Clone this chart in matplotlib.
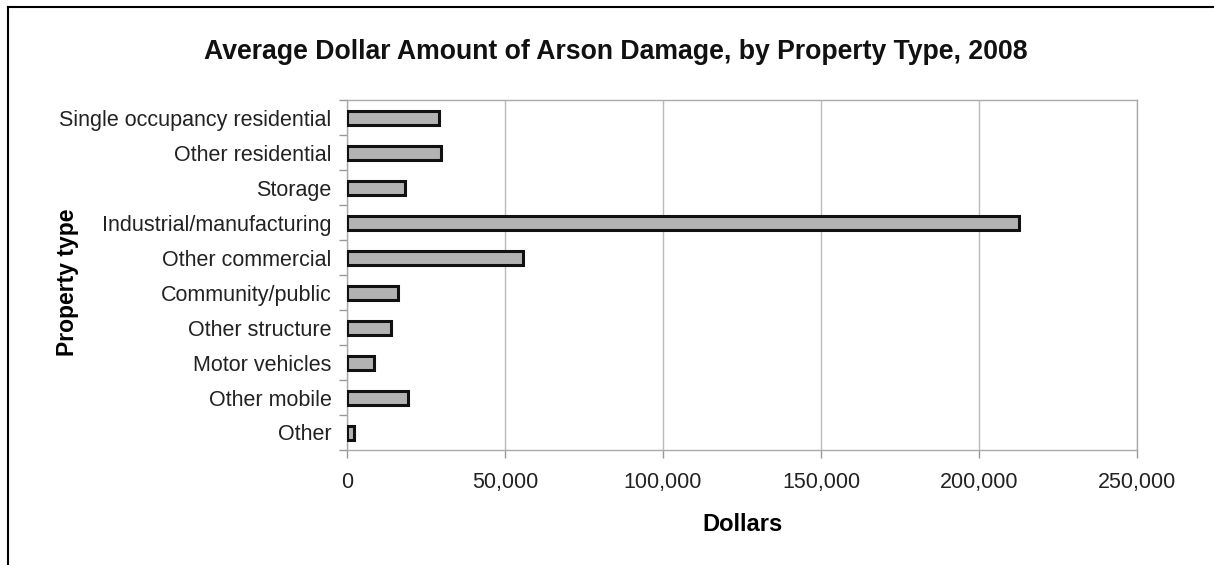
import matplotlib
matplotlib.use("Agg")
import matplotlib.pyplot as plt
from matplotlib.lines import Line2D
from matplotlib.ticker import FuncFormatter, FixedLocator

categories = ["Single occupancy residential", "Other residential", "Storage",
              "Industrial/manufacturing", "Other commercial", "Community/public",
              "Other structure", "Motor vehicles", "Other mobile", "Other"]
values = [29200, 29650, 18250, 212500, 55800, 16100, 14000, 8550, 19300, 2200]
xticks = [0, 50000, 100000, 150000, 200000, 250000]

plt.rcParams['font.family'] = ['Liberation Sans', 'DejaVu Sans']

fig = plt.figure(figsize=(12.14, 5.65), dpi=100)
ax = fig.add_axes([347/1214, 1 - 450/565, (1137-347)/1214, 350/565])

n = len(categories)
ypos = list(range(n))[::-1]
ax.barh(ypos, values, height=0.4, color="#b3b3b3", edgecolor="#111111", linewidth=2.2, zorder=3)

ax.set_xlim(0, 250000)
ax.set_ylim(-0.5, n - 0.5)
ax.set_xticks(xticks)
ax.xaxis.set_major_formatter(FuncFormatter(lambda v, p: f"{int(v):,}"))
ax.set_yticks(ypos)
ax.set_yticklabels(categories)
ax.tick_params(axis='y', length=0, pad=11, labelsize=15.5, colors="#222222")
ax.tick_params(axis='x', length=6, width=1, color="#999999", pad=10, labelsize=15.5, labelcolor="#222222")
ax.yaxis.set_minor_locator(FixedLocator([i - 0.5 for i in range(n + 1)]))
ax.tick_params(axis='y', which='minor', length=6, width=1, color="#999999")

ax.grid(axis='x', color="#bbbbbb", linewidth=1, zorder=0)
for s in ax.spines.values():
    s.set_color("#aaaaaa")
    s.set_linewidth(1)

ax.set_xlabel("Dollars", fontsize=17, fontweight='bold', labelpad=14)
ax.set_ylabel("Property type", fontsize=16.5, fontweight='bold')
ax.yaxis.set_label_coords(-0.339, 0.48)
fig.text(616/1214, 1 - 52/565, "Average Dollar Amount of Arson Damage, by Property Type, 2008",
         ha='center', va='center', fontsize=19.2, fontweight='bold', color="#111111")

fig.add_artist(Line2D([8/1214, 8/1214], [0, 1 - 7/565], transform=fig.transFigure, color='black', linewidth=1.5))
fig.add_artist(Line2D([8/1214, 1], [1 - 7/565, 1 - 7/565], transform=fig.transFigure, color='black', linewidth=1.5))

fig.savefig("out.png", dpi=100)
